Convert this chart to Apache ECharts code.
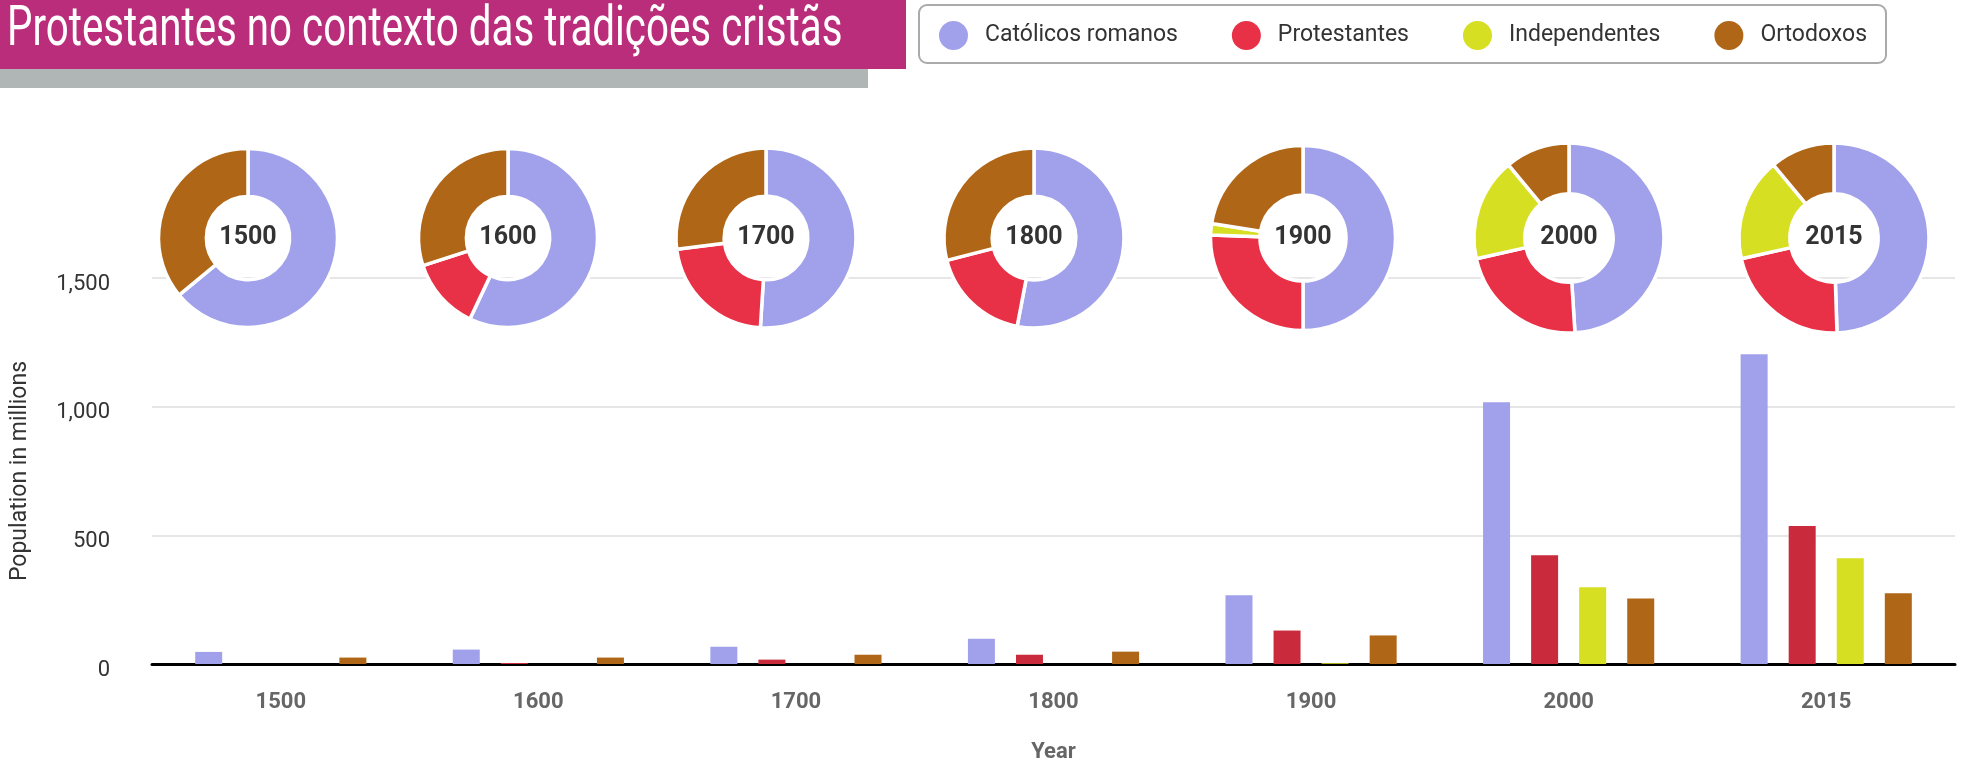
<!DOCTYPE html>
<html>
<head>
<meta charset="utf-8">
<title>Protestantes no contexto das tradições cristãs</title>
<script src="https://cdn.jsdelivr.net/npm/echarts@6/dist/echarts.min.js"></script>
<style>
  html, body { margin: 0; padding: 0; background: #fff; }
  #chart { width: 1968px; height: 763px; }
</style>
</head>
<body>
<div id="chart"></div>
<script>
// dados (milhões)
var years = ['1500', '1600', '1700', '1800', '1900', '2000', '2015'];
var catolicos = [47, 56, 67, 98, 267, 1017, 1204];
var protestantes = [0, 4, 17, 36, 130, 423, 536];
var independentes = [0, 0, 0, 0, 3, 298, 411];
var ortodoxos = [25, 25, 36, 48, 111, 255, 275];

// parcelas dos anéis (%)
var catolicosPct = [64, 57, 51, 53, 50, 49, 49.5];
var protestantesPct = [0, 13, 22, 18, 25.5, 22.5, 22];
var independentesPct = [0, 0, 0, 0, 2, 17.5, 17.5];
var ortodoxosPct = [36, 30, 27, 29, 22.5, 11, 11];

var yTicks = [0, 500, 1000, 1500];

var names = ['Católicos romanos', 'Protestantes', 'Independentes', 'Ortodoxos'];
var pieColors = ['#a1a1eb', '#e83046', '#d7df22', '#b06617'];
var barColors = ['#a1a1eb', '#c92a3c', '#d7df22', '#b06617'];

// layout dos anéis
var pieX = [248, 508, 766, 1034, 1303, 1569, 1834];
var pieY = 238;
var pieOuter = [89.5, 89.5, 90, 90, 92.5, 95, 95];

var myChart = echarts.init(document.getElementById('chart'));

var barData = [catolicos, protestantes, independentes, ortodoxos];
var pctData = [catolicosPct, protestantesPct, independentesPct, ortodoxosPct];

var series = [];
barData.forEach(function (values, i) {
  series.push({
    name: names[i],
    type: 'bar',
    data: values,
    barWidth: 27,
    barGap: '78%',
    itemStyle: { color: barColors[i] },
    z: 2
  });
});

years.forEach(function (year, k) {
  var data = [];
  pctData.forEach(function (arr, i) {
    if (!arr[k]) return;
    data.push({ name: names[i], value: arr[k], itemStyle: { color: pieColors[i] } });
  });
  data[0].label = {
    show: true,
    position: 'center',
    formatter: year,
    fontFamily: 'Roboto',
    fontSize: 25,
    fontWeight: 'bold',
    color: '#333'
  };
  series.push({
    type: 'pie',
    center: [pieX[k], pieY],
    radius: [pieOuter[k] * 0.465, pieOuter[k]],
    startAngle: 90,
    clockwise: true,
    silent: true,
    label: { show: false },
    labelLine: { show: false },
    itemStyle: { borderColor: '#fff', borderWidth: 3.5 },
    data: data,
    z: 5
  });
});

var option = {
  animation: false,
  textStyle: { fontFamily: 'Roboto' },
  graphic: [
    { type: 'rect', shape: { x: 0, y: 69, width: 868, height: 19 }, style: { fill: '#afb6b5' } },
    { type: 'rect', shape: { x: 0, y: 0, width: 906, height: 69 }, style: { fill: '#ba2d7a' } },
    {
      type: 'text',
      x: 7,
      y: 31,
      scaleX: 0.72,
      style: {
        text: 'Protestantes no contexto das tradições cristãs',
        fill: '#fff',
        font: '56px Roboto',
        textVerticalAlign: 'middle'
      }
    }
  ],
  legend: {
    left: 919,
    top: 5,
    padding: [16, 19, 13, 20],
    borderColor: '#aaa',
    borderWidth: 2,
    borderRadius: 8,
    itemWidth: 29,
    itemHeight: 29,
    itemGap: 54,
    icon: 'circle',
    selectedMode: false,
    textStyle: { fontSize: 23, color: '#333', padding: [0, 0, 0, 12] },
    data: names.map(function (n, i) {
      return { name: n, itemStyle: { color: pieColors[i] } };
    })
  },
  grid: { left: 152, right: 13, top: 278, bottom: 99, outerBoundsMode: 'none' },
  xAxis: {
    type: 'category',
    data: years,
    name: 'Year',
    nameLocation: 'middle',
    nameGap: 77,
    nameTextStyle: { fontSize: 22, fontWeight: 'bold', color: '#666' },
    axisLine: { lineStyle: { color: '#000', width: 3 } },
    axisTick: { alignWithLabel: true, length: 25, lineStyle: { color: '#000', width: 2 } },
    axisLabel: { margin: 27, fontSize: 22, fontWeight: 'bold', color: '#666' }
  },
  yAxis: {
    type: 'value',
    min: yTicks[0],
    max: yTicks[yTicks.length - 1],
    interval: yTicks[1] - yTicks[0],
    name: 'Population in millions',
    nameLocation: 'middle',
    nameGap: 120,
    nameTextStyle: { fontSize: 23, color: '#333' },
    axisLine: { show: false },
    axisTick: { show: false },
    splitLine: { lineStyle: { color: '#e6e6e6', width: 2 } },
    axisLabel: {
      margin: 42,
      fontSize: 22,
      color: '#333',
      verticalAlign: 'top',
      lineHeight: 12,
      formatter: function (v) { return v.toLocaleString('en-US'); }
    }
  },
  series: series
};

myChart.setOption(option);
</script>
</body>
</html>
